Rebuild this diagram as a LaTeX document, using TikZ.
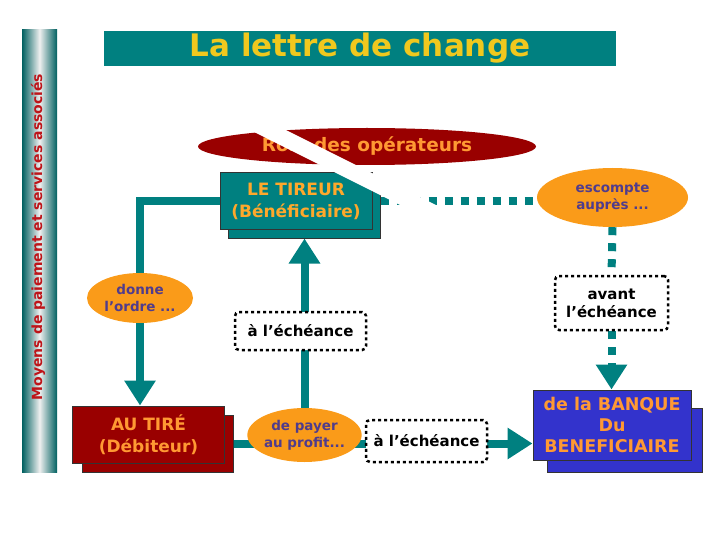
\documentclass[tikz,border=0pt]{standalone}
\usepackage{fontspec}
\setmainfont{DejaVu Sans}
\usetikzlibrary{shapes.geometric,arrows.meta,backgrounds}
\definecolor{canard}{RGB}{0,128,128}
\definecolor{bordeaux}{RGB}{153,0,0}
\definecolor{orangeT}{RGB}{255,153,51}
\definecolor{jaune}{RGB}{240,200,30}
\definecolor{orangeB}{RGB}{250,155,25}
\definecolor{violet}{RGB}{80,60,140}
\definecolor{bleuB}{RGB}{51,51,204}
\definecolor{rouge}{RGB}{190,20,25}

\begin{document}
\begin{tikzpicture}[x=1pt,y=-1pt,
  boite/.style={draw=black!80,line width=1pt,inner sep=0pt,align=center,
    font=\bfseries\fontsize{17}{22}\selectfont},
  bulle/.style={ellipse,fill=orangeB,inner sep=0pt,align=center,text=violet,
    font=\bfseries\fontsize{13.5}{17}\selectfont},
  pointille/.style={draw=black,line width=2.5pt,dash pattern=on 3pt off 3pt,
    rounded corners=4pt,fill=white,inner sep=0pt,align=center,
    font=\bfseries\fontsize{15}{18}\selectfont},
  fleche/.style={draw=canard,line width=8pt},
  carres/.style={draw=canard,line width=8pt,dash pattern=on 8pt off 8pt},
  tete/.style={-{Triangle[width=30pt,length=25pt]}}]
  \useasboundingbox (0,0) rectangle (720,540);

  % side bar and title
  \shade[left color=canard!75!black,right color=canard!75!black,middle color=black!6]
    (22,30) rectangle (57,472);
  \node[rotate=90,text=rouge,font=\bfseries\fontsize{14}{17}\selectfont] (cote) at (38,237)
    {Moyens de paiement et services associés};
  \node[fill=canard,minimum width=512pt,minimum height=35pt,inner sep=0pt,text=jaune,
    font=\bfseries\fontsize{31}{36}\selectfont] (titre) at (360,48.5) {La lettre de change};
  \node[ellipse,fill=bordeaux,minimum width=338pt,minimum height=37pt,inner sep=0pt,
    text=orangeT,font=\bfseries\fontsize{18.5}{22}\selectfont] (role) at (367,146.5)
    {Rôle des opérateurs};

  % boxes (shadow first)
  \node[boite,fill=canard,minimum width=152pt,minimum height=57pt] (tireurS) at (304,209.5) {};
  \node[boite,fill=canard,minimum width=152pt,minimum height=57pt,text=orangeT!85!yellow]
    (tireur) at (296,201.5) {LE TIREUR\\(Bénéficiaire)};
  \node[boite,fill=bordeaux,minimum width=151pt,minimum height=57pt] (tireS) at (157.5,443.5) {};
  \node[boite,fill=bordeaux,minimum width=152pt,minimum height=57pt,text=orangeT]
    (tire) at (148.5,434.5) {AU TIRÉ\\(Débiteur)};
  \node[boite,fill=bleuB,minimum width=155pt,minimum height=64pt] (banqueS) at (624.5,440) {};
  \node[boite,fill=bleuB,minimum width=158pt,minimum height=70pt,text=orangeT,
    font=\bfseries\fontsize{17.5}{21}\selectfont]
    (banque) at (612,425) {de la BANQUE\\Du\\BENEFICIAIRE};

  % bubbles
  \node[bulle,minimum width=151pt,minimum height=59pt] (escompte) at (612.5,197.5) {escompte\\auprès ...};
  \node[bulle,minimum width=106pt,minimum height=50pt] (donne) at (140,298) {donne\\l’ordre ...};
  \node[bulle,minimum width=105pt,minimum height=54pt] (payer) at (304.5,435) {de payer\\au profit...};

  % dotted frames
  \node[pointille,minimum width=131pt,minimum height=38pt] (echeanceA) at (300.5,331) {à l’échéance};
  \node[pointille,minimum width=121pt,minimum height=42pt] (echeanceB) at (426.5,441) {à l’échéance};
  \node[pointille,minimum width=113pt,minimum height=54pt] (avant) at (611.5,303) {avant\\l’échéance};

  % connectors, behind everything
  \begin{pgfonlayer}{background}
    \coordinate (coude) at (140,201.5);
    \draw[fleche,tete] (tireur.west) -- (coude) -- (coude |- tire.north);
    \draw[fleche,tete] (payer.north) -- (payer.north |- tireurS.south);
    \draw[fleche,tete] (tireS.east) -- (tireS.east -| banque.west);
    \draw[carres] (tireur.east -| tireurS.east) -- (tireur.east -| escompte.west);
    \draw[carres] (escompte.south) -- (avant.north);
    \draw[carres,tete] (avant.south) -- (avant.south |- banque.north);
  \end{pgfonlayer}

  % white stripe over the title ellipse
  \draw[white,line width=16pt] (258,125) -- (448,220);
\end{tikzpicture}
\end{document}
